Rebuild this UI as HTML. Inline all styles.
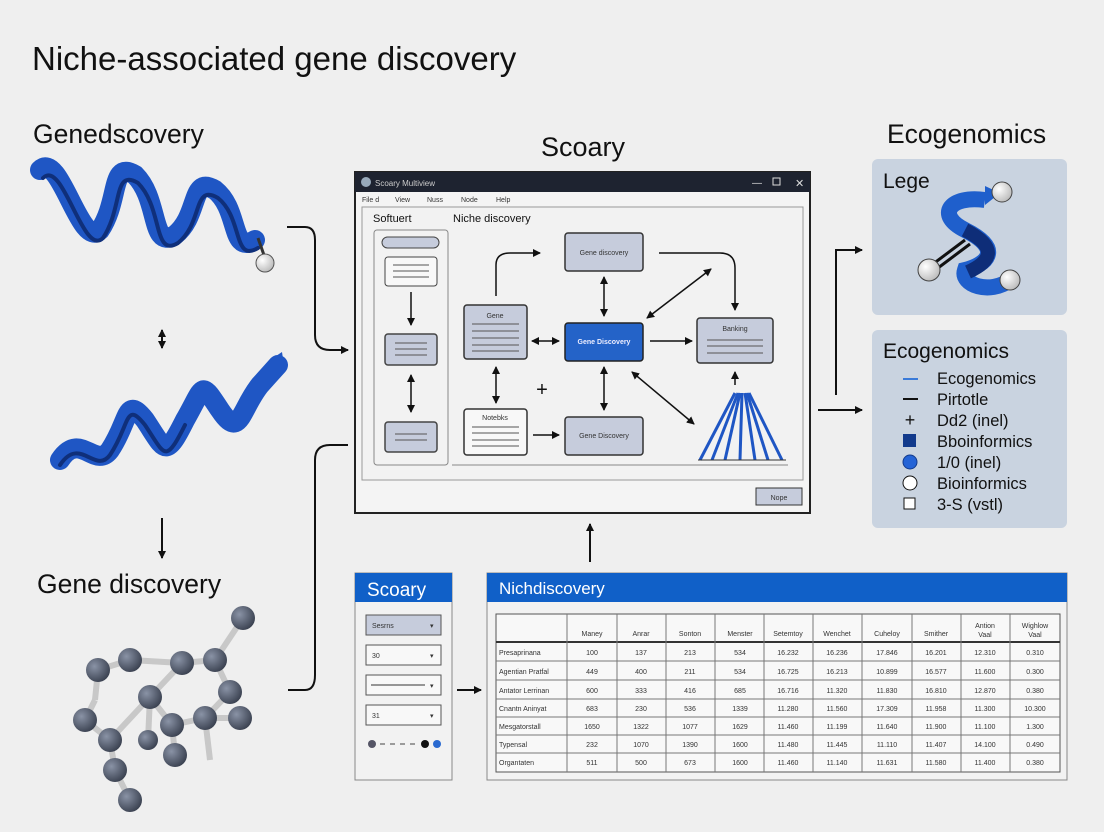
<!DOCTYPE html>
<html><head><meta charset="utf-8"><style>
html,body{margin:0;padding:0;background:#efefef;}
svg{display:block;font-family:"Liberation Sans",sans-serif;}
</style></head><body>
<svg width="1104" height="832" viewBox="0 0 1104 832" xmlns="http://www.w3.org/2000/svg">
<defs>
<marker id="ah" markerWidth="8" markerHeight="8" refX="7" refY="4" orient="auto" markerUnits="userSpaceOnUse"><path d="M0,0 L8,4 L0,8 z" fill="#111"/></marker>
<marker id="as" markerWidth="8" markerHeight="8" refX="1" refY="4" orient="auto" markerUnits="userSpaceOnUse"><path d="M8,0 L0,4 L8,8 z" fill="#111"/></marker>
<radialGradient id="ball" cx="0.35" cy="0.35" r="0.7"><stop offset="0" stop-color="#fff"/><stop offset="1" stop-color="#bbb"/></radialGradient>
<radialGradient id="atom" cx="0.35" cy="0.35" r="0.7"><stop offset="0" stop-color="#8a93a6"/><stop offset="1" stop-color="#3a4150"/></radialGradient>
</defs>
<rect width="1104" height="832" fill="#efefef"/>
<text x="32" y="70" font-size="33" fill="#111">Niche-associated gene discovery</text>
<text x="33" y="143" font-size="26.5" fill="#111">Genedscovery</text>
<text x="583" y="156" font-size="27" fill="#111" text-anchor="middle">Scoary</text>
<text x="887" y="143" font-size="26.5" fill="#111">Ecogenomics</text>
<text x="37" y="593" font-size="26.5" fill="#111">Gene discovery</text>

<!-- helix 1 -->
<g fill="none" stroke-linecap="round">
<path d="M40,170 C60,150 80,250 100,230 C120,200 110,160 135,175 C160,200 150,250 175,235 C200,215 190,175 215,190 C240,210 230,255 255,240" stroke="#1f56c4" stroke-width="20"/>
<path d="M40,170 C60,150 80,250 100,230 C120,200 110,160 135,175 C160,200 150,250 175,235 C200,215 190,175 215,190 C240,210 230,255 255,240" stroke="#0f2f7a" stroke-width="4" transform="translate(3,8)"/>
</g>
<line x1="258" y1="238" x2="265" y2="258" stroke="#333" stroke-width="3"/>
<circle cx="265" cy="263" r="9" fill="url(#ball)" stroke="#555"/>
<line x1="162" y1="330" x2="162" y2="348" stroke="#111" stroke-width="2" marker-end="url(#ah)" marker-start="url(#as)"/>
<line x1="162" y1="518" x2="162" y2="558" stroke="#111" stroke-width="2" marker-end="url(#ah)"/>
<!-- helix 2 -->
<g fill="none" stroke-linecap="round">
<path d="M60,460 C80,430 95,470 110,450 C130,420 125,395 145,420 C165,450 165,460 185,420 C205,385 200,380 220,410 C240,440 240,410 260,385 L278,365" stroke="#1f56c4" stroke-width="20"/>
<path d="M60,465 C80,435 95,475 110,455 C130,425 125,400 145,425 C165,455 165,465 185,425" stroke="#0f2f7a" stroke-width="4"/>
</g>
<path d="M270,360 L285,372 L282,352 z" fill="#1f56c4"/>
<!-- molecule -->
<g stroke="#c8c8c8" stroke-width="6">
<line x1="243" y1="618" x2="215" y2="660"/><line x1="215" y1="660" x2="182" y2="663"/><line x1="215" y1="660" x2="230" y2="692"/><line x1="230" y1="692" x2="205" y2="718"/><line x1="182" y1="663" x2="150" y2="697"/><line x1="150" y1="697" x2="172" y2="725"/><line x1="172" y1="725" x2="205" y2="718"/><line x1="182" y1="663" x2="130" y2="660"/><line x1="130" y1="660" x2="98" y2="670"/><line x1="98" y1="670" x2="95" y2="700"/><line x1="95" y1="700" x2="85" y2="720"/><line x1="85" y1="720" x2="110" y2="740"/><line x1="110" y1="740" x2="150" y2="697"/><line x1="205" y1="718" x2="240" y2="718"/><line x1="205" y1="718" x2="210" y2="760"/><line x1="172" y1="725" x2="175" y2="755"/><line x1="110" y1="740" x2="115" y2="770"/><line x1="115" y1="770" x2="130" y2="800"/><line x1="150" y1="697" x2="148" y2="740"/>
</g>
<g fill="url(#atom)">
<circle cx="243" cy="618" r="12"/><circle cx="215" cy="660" r="12"/><circle cx="182" cy="663" r="12"/><circle cx="230" cy="692" r="12"/><circle cx="205" cy="718" r="12"/><circle cx="150" cy="697" r="12"/><circle cx="172" cy="725" r="12"/><circle cx="130" cy="660" r="12"/><circle cx="98" cy="670" r="12"/><circle cx="85" cy="720" r="12"/><circle cx="110" cy="740" r="12"/><circle cx="240" cy="718" r="12"/><circle cx="175" cy="755" r="12"/><circle cx="115" cy="770" r="12"/><circle cx="130" cy="800" r="12"/><circle cx="148" cy="740" r="10"/>
</g>

<!-- connectors -->
<path d="M287,227 L305,227 Q315,227 315,240 L315,335 Q315,350 330,350 L348,350" fill="none" stroke="#111" stroke-width="2" marker-end="url(#ah)"/>
<path d="M288,690 L305,690 Q315,690 315,675 L315,460 Q315,445 330,445 L348,445" fill="none" stroke="#111" stroke-width="2"/>
<line x1="590" y1="562" x2="590" y2="524" stroke="#111" stroke-width="2" marker-end="url(#ah)"/>
<line x1="457" y1="690" x2="481" y2="690" stroke="#111" stroke-width="2" marker-end="url(#ah)"/>
<line x1="818" y1="410" x2="862" y2="410" stroke="#111" stroke-width="2" marker-end="url(#ah)"/>
<path d="M836,395 L836,250 L862,250" fill="none" stroke="#111" stroke-width="2" marker-end="url(#ah)"/>

<!-- window -->
<rect x="355" y="172" width="455" height="341" fill="#f4f4f4" stroke="#222" stroke-width="2"/>
<rect x="355" y="172" width="455" height="20" fill="#1e2330"/>
<circle cx="366" cy="182" r="5" fill="#9ab"/>
<text x="375" y="186" font-size="8" fill="#ccc">Scoary Multiview</text>
<text x="752" y="186" font-size="10" fill="#ddd">—</text>
<rect x="773" y="178" width="7" height="7" fill="none" stroke="#ddd"/>
<text x="795" y="187" font-size="11" fill="#ddd">✕</text>
<g font-size="7" fill="#333"><text x="362" y="202">File d</text><text x="395" y="202">View</text><text x="427" y="202">Nuss</text><text x="461" y="202">Node</text><text x="496" y="202">Help</text></g>
<rect x="362" y="207" width="441" height="273" fill="#f2f2f2" stroke="#999"/>
<text x="373" y="222" font-size="11" fill="#111">Softuert</text>
<text x="453" y="222" font-size="11" fill="#111">Niche discovery</text>
<rect x="374" y="230" width="74" height="235" rx="3" fill="#f2f2f2" stroke="#888"/>
<line x1="452" y1="465" x2="788" y2="465" stroke="#888"/>
<rect x="382" y="237" width="57" height="11" rx="5.5" fill="#c6ccdc" stroke="#444"/>
<rect x="385" y="257" width="52" height="29" rx="3" fill="#f8f8f8" stroke="#444"/>
<g stroke="#555"><line x1="393" y1="265" x2="429" y2="265"/><line x1="393" y1="271" x2="429" y2="271"/><line x1="393" y1="277" x2="429" y2="277"/></g>
<rect x="385" y="334" width="52" height="31" rx="3" fill="#c6ccdc" stroke="#444" stroke-width="1.5"/>
<g stroke="#555"><line x1="395" y1="343" x2="427" y2="343"/><line x1="395" y1="349" x2="427" y2="349"/><line x1="395" y1="355" x2="427" y2="355"/></g>
<rect x="385" y="422" width="52" height="30" rx="3" fill="#c6ccdc" stroke="#444" stroke-width="1.5"/>
<g stroke="#555"><line x1="395" y1="434" x2="427" y2="434"/><line x1="395" y1="440" x2="427" y2="440"/></g>
<line x1="411" y1="292" x2="411" y2="325" stroke="#111" stroke-width="1.5" marker-end="url(#ah)"/>
<line x1="411" y1="375" x2="411" y2="412" stroke="#111" stroke-width="1.5" marker-end="url(#ah)" marker-start="url(#as)"/>

<rect x="565" y="233" width="78" height="38" rx="3" fill="#c6ccdc" stroke="#333" stroke-width="1.5"/>
<text x="604" y="255" font-size="7" fill="#333" text-anchor="middle">Gene discovery</text>
<rect x="565" y="323" width="78" height="38" rx="3" fill="#2463c8" stroke="#222" stroke-width="1.5"/>
<text x="604" y="344" font-size="7" fill="#eef" text-anchor="middle" font-weight="bold">Gene Discovery</text>
<rect x="697" y="318" width="76" height="45" rx="3" fill="#c6ccdc" stroke="#333" stroke-width="1.5"/>
<text x="735" y="331" font-size="7" fill="#333" text-anchor="middle">Banking</text>
<g stroke="#555"><line x1="707" y1="340" x2="763" y2="340"/><line x1="707" y1="346" x2="763" y2="346"/><line x1="707" y1="353" x2="763" y2="353"/></g>
<rect x="464" y="305" width="63" height="54" rx="3" fill="#c6ccdc" stroke="#333" stroke-width="1.5"/>
<text x="495" y="318" font-size="7" fill="#333" text-anchor="middle">Gene</text>
<g stroke="#555"><line x1="472" y1="324" x2="519" y2="324"/><line x1="472" y1="331" x2="519" y2="331"/><line x1="472" y1="338" x2="519" y2="338"/><line x1="472" y1="345" x2="519" y2="345"/><line x1="472" y1="351" x2="519" y2="351"/></g>
<rect x="464" y="409" width="63" height="46" rx="3" fill="#f8f8f8" stroke="#333" stroke-width="1.5"/>
<text x="495" y="420" font-size="7" fill="#333" text-anchor="middle">Notebks</text>
<g stroke="#555"><line x1="472" y1="427" x2="519" y2="427"/><line x1="472" y1="433" x2="519" y2="433"/><line x1="472" y1="440" x2="519" y2="440"/><line x1="472" y1="446" x2="519" y2="446"/></g>
<rect x="565" y="417" width="78" height="38" rx="3" fill="#c6ccdc" stroke="#333" stroke-width="1.5"/>
<text x="604" y="438" font-size="7" fill="#333" text-anchor="middle">Gene Discovery</text>
<g stroke="#111" stroke-width="1.5" fill="none">
<path d="M496,296 L496,265 Q496,253 510,253 L540,253" marker-end="url(#ah)"/>
<path d="M659,253 L720,253 Q735,253 735,268 L735,310" marker-end="url(#ah)"/>
<line x1="604" y1="277" x2="604" y2="316" marker-end="url(#ah)" marker-start="url(#as)"/>
<line x1="532" y1="341" x2="559" y2="341" marker-end="url(#ah)" marker-start="url(#as)"/>
<line x1="650" y1="341" x2="692" y2="341" marker-end="url(#ah)"/>
<line x1="647" y1="318" x2="711" y2="269" marker-end="url(#ah)" marker-start="url(#as)"/>
<line x1="496" y1="367" x2="496" y2="403" marker-end="url(#ah)" marker-start="url(#as)"/>
<line x1="604" y1="367" x2="604" y2="410" marker-end="url(#ah)" marker-start="url(#as)"/>
<line x1="533" y1="435" x2="559" y2="435" marker-end="url(#ah)"/>
<line x1="632" y1="372" x2="694" y2="424" marker-end="url(#ah)" marker-start="url(#as)"/>
<line x1="735" y1="385" x2="735" y2="372" marker-end="url(#ah)"/>
</g>
<text x="542" y="396" font-size="20" fill="#111" text-anchor="middle">+</text>
<g stroke="#1f56c4" stroke-width="3">
<line x1="735" y1="393" x2="700" y2="460"/><line x1="738" y1="393" x2="712" y2="460"/><line x1="740" y1="393" x2="725" y2="460"/><line x1="742" y1="393" x2="740" y2="460"/><line x1="745" y1="393" x2="755" y2="460"/><line x1="747" y1="393" x2="768" y2="460"/><line x1="749" y1="393" x2="782" y2="460"/>
</g>
<line x1="698" y1="460" x2="786" y2="460" stroke="#333"/>
<rect x="756" y="488" width="46" height="17" fill="#c6ccdc" stroke="#333"/>
<text x="779" y="500" font-size="7" fill="#333" text-anchor="middle">Nope</text>

<!-- right panels -->
<rect x="872" y="159" width="195" height="156" rx="6" fill="#c9d3e0"/>
<text x="883" y="188" font-size="21" fill="#111">Lege</text>
<line x1="925" y1="270" x2="965" y2="240" stroke="#111" stroke-width="3"/>
<line x1="930" y1="274" x2="970" y2="244" stroke="#111" stroke-width="3"/>
<path d="M985,200 C950,195 935,215 965,230 C1005,250 985,265 965,270 C960,285 990,295 1010,280" fill="none" stroke="#1f5fcc" stroke-width="16"/>
<path d="M965,230 C1000,248 990,262 968,272" fill="none" stroke="#0e2d78" stroke-width="14"/>
<path d="M985,186 L1000,193 L985,205 z" fill="#1f5fcc"/>
<circle cx="1002" cy="192" r="10" fill="url(#ball)" stroke="#444"/>
<circle cx="929" cy="270" r="11" fill="url(#ball)" stroke="#444"/>
<circle cx="1010" cy="280" r="10" fill="url(#ball)" stroke="#444"/>

<rect x="872" y="330" width="195" height="198" rx="6" fill="#c9d3e0"/>
<text x="883" y="358" font-size="21" fill="#111">Ecogenomics</text>
<g font-size="16.5" fill="#111">
<text x="937" y="384">Ecogenomics</text><text x="937" y="405">Pirtotle</text><text x="937" y="426">Dd2 (inel)</text><text x="937" y="447">Bboinformics</text><text x="937" y="468">1/0 (inel)</text><text x="937" y="489">Bioinformics</text><text x="937" y="510">3-S (vstl)</text>
</g>
<line x1="903" y1="379" x2="918" y2="379" stroke="#3a7ad8" stroke-width="2"/>
<line x1="903" y1="399" x2="918" y2="399" stroke="#111" stroke-width="2"/>
<text x="910" y="426" font-size="18" fill="#111" text-anchor="middle">+</text>
<rect x="903" y="434" width="13" height="13" fill="#123a8c"/>
<circle cx="910" cy="462" r="7" fill="#2463d6" stroke="#123a8c"/>
<circle cx="910" cy="483" r="7" fill="#fff" stroke="#111"/>
<rect x="904" y="498" width="11" height="11" fill="#fff" stroke="#111"/>

<!-- Scoary panel -->
<rect x="355" y="573" width="97" height="207" fill="#f2f2f2" stroke="#888"/>
<rect x="355" y="573" width="97" height="29" fill="#1060c8"/>
<text x="367" y="596" font-size="19" fill="#fff">Scoary</text>
<g font-size="7" fill="#333">
<rect x="366" y="615" width="75" height="20" fill="#c6ccdc" stroke="#555"/><text x="372" y="628">Sesrns</text><text x="430" y="628">▾</text>
<rect x="366" y="645" width="75" height="20" fill="#f8f8f8" stroke="#555"/><text x="372" y="658">30</text><text x="430" y="658">▾</text>
<rect x="366" y="675" width="75" height="20" fill="#f8f8f8" stroke="#555"/><line x1="371" y1="685" x2="425" y2="685" stroke="#333"/><text x="430" y="688">▾</text>
<rect x="366" y="705" width="75" height="20" fill="#f8f8f8" stroke="#555"/><text x="372" y="718">31</text><text x="430" y="718">▾</text>
</g>
<circle cx="372" cy="744" r="4" fill="#556"/><line x1="380" y1="744" x2="420" y2="744" stroke="#444" stroke-dasharray="5,5"/>
<circle cx="425" cy="744" r="4" fill="#111"/><circle cx="437" cy="744" r="4" fill="#2a6ad0"/>

<!-- table panel -->
<rect x="487" y="573" width="580" height="207" fill="#f2f2f2" stroke="#888"/>
<rect x="487" y="573" width="580" height="29" fill="#1060c8"/>
<text x="499" y="594" font-size="17" fill="#fff">Nichdiscovery</text>
<rect x="496" y="614" width="564" height="158" fill="#f8f8f8" stroke="#555"/>
<line x1="496" y1="642" x2="1060" y2="642" stroke="#333" stroke-width="2"/>
<g stroke="#777">
<line x1="567" y1="614" x2="567" y2="772"/><line x1="617" y1="614" x2="617" y2="772"/><line x1="666" y1="614" x2="666" y2="772"/><line x1="715" y1="614" x2="715" y2="772"/><line x1="764" y1="614" x2="764" y2="772"/><line x1="813" y1="614" x2="813" y2="772"/><line x1="862" y1="614" x2="862" y2="772"/><line x1="912" y1="614" x2="912" y2="772"/><line x1="961" y1="614" x2="961" y2="772"/><line x1="1010" y1="614" x2="1010" y2="772"/>
<line x1="496" y1="661" x2="1060" y2="661"/><line x1="496" y1="680" x2="1060" y2="680"/><line x1="496" y1="699" x2="1060" y2="699"/><line x1="496" y1="717" x2="1060" y2="717"/><line x1="496" y1="735" x2="1060" y2="735"/><line x1="496" y1="753" x2="1060" y2="753"/>
</g>
<g font-size="7" fill="#333" text-anchor="middle">
<text x="592" y="636">Maney</text><text x="641" y="636">Anrar</text><text x="690" y="636">Sonton</text><text x="740" y="636">Menster</text><text x="788" y="636">Setemtoy</text><text x="837" y="636">Wenchet</text><text x="887" y="636">Cuheloy</text><text x="936" y="636">Smither</text><text x="985" y="628">Antion</text><text x="985" y="637">Vaal</text><text x="1035" y="628">Wighlow</text><text x="1035" y="637">Vaal</text>
</g>
<g font-size="7" fill="#333">
<text x="499" y="655">Presaprinana</text><text x="499" y="674">Agentian Pratfal</text><text x="499" y="693">Antator Lerrinan</text><text x="499" y="711">Cnantn Aninyat</text><text x="499" y="729">Mesgatorstall</text><text x="499" y="747">Typensal</text><text x="499" y="765">Organtaten</text>
</g>
<g font-size="7" fill="#333" text-anchor="middle">
<text x="592" y="655">100</text><text x="641" y="655">137</text><text x="690" y="655">213</text><text x="740" y="655">534</text><text x="788" y="655">16.232</text><text x="837" y="655">16.236</text><text x="887" y="655">17.846</text><text x="936" y="655">16.201</text><text x="985" y="655">12.310</text><text x="1035" y="655">0.310</text>
<text x="592" y="674">449</text><text x="641" y="674">400</text><text x="690" y="674">211</text><text x="740" y="674">534</text><text x="788" y="674">16.725</text><text x="837" y="674">16.213</text><text x="887" y="674">10.899</text><text x="936" y="674">16.577</text><text x="985" y="674">11.600</text><text x="1035" y="674">0.300</text>
<text x="592" y="693">600</text><text x="641" y="693">333</text><text x="690" y="693">416</text><text x="740" y="693">685</text><text x="788" y="693">16.716</text><text x="837" y="693">11.320</text><text x="887" y="693">11.830</text><text x="936" y="693">16.810</text><text x="985" y="693">12.870</text><text x="1035" y="693">0.380</text>
<text x="592" y="711">683</text><text x="641" y="711">230</text><text x="690" y="711">536</text><text x="740" y="711">1339</text><text x="788" y="711">11.280</text><text x="837" y="711">11.560</text><text x="887" y="711">17.309</text><text x="936" y="711">11.958</text><text x="985" y="711">11.300</text><text x="1035" y="711">10.300</text>
<text x="592" y="729">1650</text><text x="641" y="729">1322</text><text x="690" y="729">1077</text><text x="740" y="729">1629</text><text x="788" y="729">11.460</text><text x="837" y="729">11.199</text><text x="887" y="729">11.640</text><text x="936" y="729">11.900</text><text x="985" y="729">11.100</text><text x="1035" y="729">1.300</text>
<text x="592" y="747">232</text><text x="641" y="747">1070</text><text x="690" y="747">1390</text><text x="740" y="747">1600</text><text x="788" y="747">11.480</text><text x="837" y="747">11.445</text><text x="887" y="747">11.110</text><text x="936" y="747">11.407</text><text x="985" y="747">14.100</text><text x="1035" y="747">0.490</text>
<text x="592" y="765">511</text><text x="641" y="765">500</text><text x="690" y="765">673</text><text x="740" y="765">1600</text><text x="788" y="765">11.460</text><text x="837" y="765">11.140</text><text x="887" y="765">11.631</text><text x="936" y="765">11.580</text><text x="985" y="765">11.400</text><text x="1035" y="765">0.380</text>
</g>
</svg>
</body></html>
